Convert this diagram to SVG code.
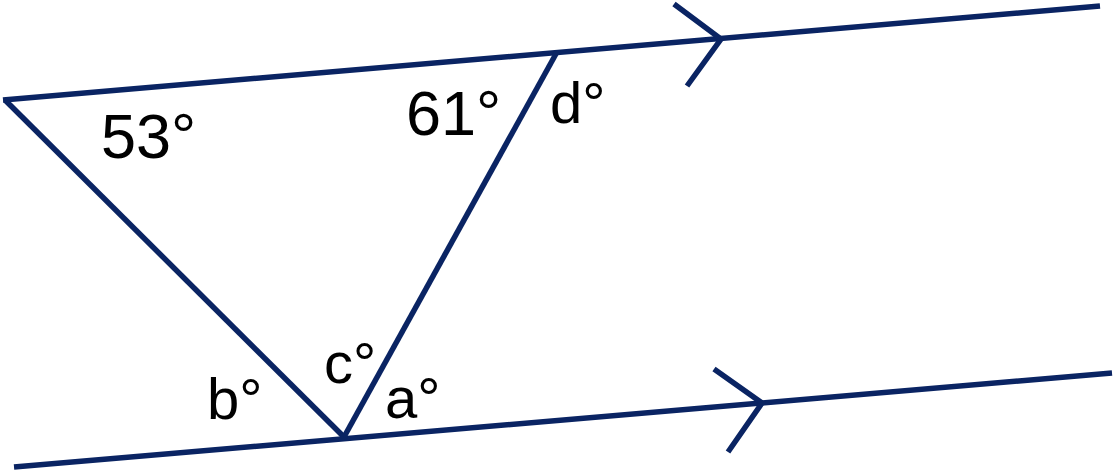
<svg xmlns="http://www.w3.org/2000/svg" width="1113" height="471" viewBox="0 0 1113 471">
<style>
.ln{stroke:#0a2463;stroke-width:5.5;fill:none;stroke-linecap:butt;stroke-linejoin:miter}
.num{font-family:"Liberation Sans",Arial,sans-serif;font-size:63px;fill:#000}
.lbl{font-family:"Liberation Sans",Arial,sans-serif;font-size:58px;fill:#000}
</style>
<rect width="1113" height="471" fill="#fff"/>
<g id="connectors">
<path id="top-line" class="ln" d="M3,100 L1100,6"/>
<path id="bottom-line" class="ln" d="M14,467 L1112,373"/>
<path id="side-left" class="ln" d="M5,100 L344,437"/>
<path id="side-right" class="ln" d="M557,52 L344,437"/>
<path id="chevron-top" class="ln" d="M674,4 L721,39 L687,86"/>
<path id="chevron-bottom" class="ln" d="M714,369 L762,403 L728,452"/>
</g>
<g id="label-53"><text class="num" x="101" y="158">53°</text></g>
<g id="label-61"><text class="num" x="406" y="135">61°</text></g>
<g id="label-d"><text class="lbl" x="550" y="123">d°</text></g>
<g id="label-c"><text class="lbl" x="324" y="383">c°</text></g>
<g id="label-b"><text class="lbl" x="207" y="419">b°</text></g>
<g id="label-a"><text class="lbl" x="385" y="418">a°</text></g>
</svg>
